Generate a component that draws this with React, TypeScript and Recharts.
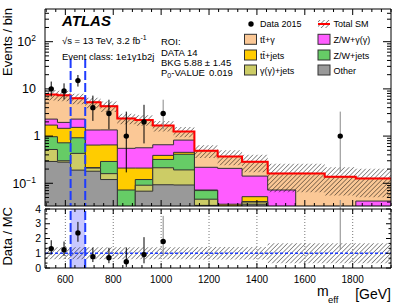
import React from 'react';
import {
  ComposedChart,
  Area,
  Line,
  Scatter,
  XAxis,
  YAxis,
  ReferenceLine,
  ReferenceArea,
  ErrorBar,
} from 'recharts';

const FONT = '"Liberation Sans", Arial, Helvetica, sans-serif';

// m_eff bin edges [GeV]
const binEdges = [515, 567, 622, 683, 747, 817, 892, 965, 1052, 1139, 1236, 1338, 1445, 1562, 1683, 1813, 1960];

// background components, events per bin (stack order bottom -> top)
const other = [0.29, 0.28, 0.19, 0.18, 0.12, 0.015, 0.068, 0.093, 0.092, 0.034, 0.02, 0.036, 0.01, 0.01, 0.01, 0.01];
const gammaJets = [0.23, 0.02, 0.24, 0.03, 0.04, 0.01, 0.023, 0.12, 0.1, 0.012, 0.01, 0.004, 0.005, 0.005, 0.005, 0.005];
const zwJets = [0.45, 0.42, 0.49, 0.005, 0.13, 0.047, 0.029, 0.107, 0.22, 0.024, 0.003, 0.001, 0.005, 0.005, 0.005, 0.005];
const ttJets = [0.74, 0.74, 0.61, 0.43, 0.36, 0.138, 0.09, 0.07, 0.04, 0.002, 0.003, 0.011, 0.005, 0.005, 0.005, 0.005];
const zwGamma = [0.58, 0.49, 0.76, 0.7, 0.7, 0.34, 0.355, 0.265, 0.37, 0.146, 0.171, 0.09, 0.047, 0.002, 0.002, 0.017];
const ttGamma = [5.31, 5.35, 4.01, 3.86, 2.96, 1.82, 1.635, 1.015, 0.43, 0.272, 0.163, 0.144, 0.09, 0.135, 0.11, 0.085];

// relative uncertainty on total SM per bin (main panel) and as drawn in the ratio panel
const bkgRelErr = [0.25, 0.25, 0.25, 0.25, 0.25, 0.25, 0.25, 0.25, 0.25, 0.3, 0.35, 0.4, 0.6, 0.6, 0.6, 0.6];
const ratioBandErr = [0.4, 0.4, 0.4, 0.4, 0.4, 0.4, 0.4, 0.4, 0.4, 0.42, 0.42, 0.42, 0.68, 0.68, 0.68, 0.68];

// data 2015
const dataCounts = [10, 9, 15, 4, 3, 1, 2, 3, 0, 0, 0, 0, 0, 0, 1, 0];
const dataLow = [6.9, 6.0, 11.2, 2.1, 1.4, 0.17, 0.7, 1.4, 0, 0, 0, 0, 0, 0, 0.17, 0];
const dataHigh = [14.3, 13.1, 19.7, 7.2, 5.9, 3.3, 4.6, 5.9, 0, 0, 0, 0, 0, 0, 3.3, 0];
const greyErrBins = [7, 14];

const roiEdges = [622, 683];
const xMajor = [600, 800, 1000, 1200, 1400, 1600, 1800];

const X_MIN = 515;
const X_MAX = 1960;
const Y_MIN = 0.033;
const Y_MAX = 493;

const COLORS = {
  ttGamma: '#fbc896',
  zwGamma: '#ff5cff',
  ttJets: '#ffcc00',
  zwJets: '#66cc66',
  gammaJets: '#cccc66',
  other: '#999999',
};

const layers = [
  { key: 'other', values: other },
  { key: 'gammaJets', values: gammaJets },
  { key: 'zwJets', values: zwJets },
  { key: 'ttJets', values: ttJets },
  { key: 'zwGamma', values: zwGamma },
  { key: 'ttGamma', values: ttGamma },
];

const nBins = binEdges.length - 1;
const totals = binEdges.slice(0, nBins).map((_, i) => layers.reduce((s, l) => s + l.values[i], 0));

const rows = binEdges.map((x, i) => {
  const b = Math.min(i, nBins - 1);
  const row: any = { x };
  let cum = 0;
  layers.forEach((l) => {
    cum += l.values[b];
    row[l.key] = cum;
  });
  row.total = cum;
  row.band = [cum * (1 - bkgRelErr[b]), cum * (1 + bkgRelErr[b])];
  row.rband = [1 - ratioBandErr[b], 1 + ratioBandErr[b]];
  return row;
});

const points = dataCounts
  .map((n, i) => ({
    x: (binEdges[i] + binEdges[i + 1]) / 2,
    y: n,
    err: [n - dataLow[i], dataHigh[i] - n],
    r: n / totals[i],
    rerr: [(n - dataLow[i]) / totals[i], (dataHigh[i] - n) / totals[i]],
    grey: greyErrBins.includes(i),
  }))
  .filter((p) => p.y > 0);
const blackPts = points.filter((p) => !p.grey);
const greyPts = points.filter((p) => p.grey);

const xTicks: number[] = [];
for (let v = 520; v <= 1960; v += 40) xTicks.push(v);
const logTicks: number[] = [];
[0.01, 0.1, 1, 10, 100].forEach((d) => {
  for (let m = 1; m <= 9; m++) {
    const v = +(m * d).toPrecision(3);
    if (v >= Y_MIN && v <= Y_MAX) logTicks.push(v);
  }
});
const ratioTicks: number[] = [];
for (let k = 0; k <= 12; k++) ratioTicks.push(+(k / 3).toFixed(4));

const isMajorLog = (v: number) => [0.1, 1, 10, 100].includes(v);

function xTick(dir: number, major: number, minor: number, labels: boolean) {
  return (props: any) => {
    const { x, y, payload } = props;
    const isMajor = payload.value % 200 === 0;
    const len = isMajor ? major : minor;
    return (
      <g>
        <line x1={x} x2={x} y1={y} y2={y - dir * len} stroke="#000" strokeWidth={1} />
        {labels && isMajor && (
          <text x={x} y={y + 15} textAnchor="middle" fontSize={10} fontFamily={FONT} fill="#000">
            {payload.value}
          </text>
        )}
      </g>
    );
  };
}

function logLabel(v: number) {
  if (v === 100)
    return (
      <>
        10<tspan dy={-5} fontSize={8.5}>2</tspan>
      </>
    );
  if (v === 0.1)
    return (
      <>
        10<tspan dy={-5} fontSize={8.5}>−1</tspan>
      </>
    );
  return <>{v}</>;
}

function logTick(dir: number, labels: boolean) {
  return (props: any) => {
    const { x, y, payload } = props;
    const major = isMajorLog(payload.value);
    const len = major ? 8 : 4;
    return (
      <g>
        <line x1={x} x2={x + dir * len} y1={y} y2={y} stroke="#000" strokeWidth={1} />
        {labels && major && (
          <text
            x={payload.value === 1 ? x - 4.5 : x - 9}
            y={y + 4.3}
            textAnchor="end"
            fontSize={12.5}
            fontFamily={FONT}
            fill="#000"
          >
            {logLabel(payload.value)}
          </text>
        )}
      </g>
    );
  };
}

function ratioTick(dir: number, labels: boolean) {
  return (props: any) => {
    const { x, y, payload } = props;
    const major = Math.abs(payload.value - Math.round(payload.value)) < 1e-6;
    const len = major ? 5 : 2.5;
    return (
      <g>
        <line x1={x} x2={x + dir * len} y1={y} y2={y} stroke="#000" strokeWidth={1} />
        {labels && major && (
          <text x={x - 4} y={y + 3.6} textAnchor="end" fontSize={10.5} fontFamily={FONT} fill="#000">
            {Math.round(payload.value)}
          </text>
        )}
      </g>
    );
  };
}

const dot = (p: any) => <circle cx={p.cx} cy={p.cy} r={2.7} fill="#000" />;

function MainPanel() {
  const ax = { xAxisId: 'b', yAxisId: 'l' };
  return (
    <ComposedChart width={411} height={207} data={rows} margin={{ top: 8, right: 0, bottom: 0, left: 0 }}>
      <XAxis
        xAxisId="b"
        dataKey="x"
        type="number"
        domain={[X_MIN, X_MAX]}
        allowDataOverflow
        ticks={xTicks}
        interval={0}
        tick={xTick(1, 6, 3, false)}
        tickLine={false}
        tickSize={0}
        tickMargin={0}
        height={1}
        axisLine={{ stroke: '#000' }}
      />
      <XAxis
        xAxisId="t"
        orientation="top"
        dataKey="x"
        type="number"
        domain={[X_MIN, X_MAX]}
        allowDataOverflow
        ticks={xTicks}
        interval={0}
        tick={xTick(-1, 6, 3, false)}
        tickLine={false}
        tickSize={0}
        tickMargin={0}
        height={1}
        axisLine={{ stroke: '#000' }}
      />
      <YAxis
        yAxisId="l"
        scale="log"
        type="number"
        domain={[Y_MIN, Y_MAX]}
        allowDataOverflow
        ticks={logTicks}
        interval={0}
        tick={logTick(1, true)}
        tickLine={false}
        tickSize={0}
        tickMargin={0}
        width={45}
        axisLine={{ stroke: '#000' }}
      />
      <YAxis
        yAxisId="r"
        orientation="right"
        scale="log"
        type="number"
        domain={[Y_MIN, Y_MAX]}
        allowDataOverflow
        ticks={logTicks}
        interval={0}
        tick={logTick(-1, false)}
        tickLine={false}
        tickSize={0}
        tickMargin={0}
        width={20}
        axisLine={{ stroke: '#000' }}
      />
      {[...layers].reverse().map((l) => (
        <Area
          key={l.key}
          {...ax}
          dataKey={l.key}
          type="stepAfter"
          baseValue={Y_MIN}
          fill={(COLORS as any)[l.key]}
          fillOpacity={1}
          stroke="#333"
          strokeWidth={1}
          isAnimationActive={false}
        />
      ))}
      <Area {...ax} dataKey="band" type="stepAfter" fill="url(#hatch)" fillOpacity={1} stroke="none" isAnimationActive={false} />
      <Line {...ax} dataKey="total" type="stepAfter" stroke="#ff0000" strokeWidth={2} dot={false} isAnimationActive={false} />
      {roiEdges.map((e) => (
        <ReferenceLine
          key={e}
          {...ax}
          segment={[
            { x: e, y: 43 },
            { x: e, y: Y_MIN },
          ]}
          stroke="#1f3cff"
          strokeWidth={2}
          strokeDasharray="9 3"
        />
      ))}
      <Scatter {...ax} data={blackPts} dataKey="y" shape={dot} isAnimationActive={false}>
        <ErrorBar dataKey="err" direction="y" width={0} stroke="#000" strokeWidth={1} />
      </Scatter>
      <Scatter {...ax} data={greyPts} dataKey="y" shape={dot} isAnimationActive={false}>
        <ErrorBar dataKey="err" direction="y" width={0} stroke="#888" strokeWidth={1} />
      </Scatter>
    </ComposedChart>
  );
}

function RatioPanel() {
  const ax = { xAxisId: 'b', yAxisId: 'l' };
  return (
    <ComposedChart width={411} height={108} data={rows} margin={{ top: 8, right: 0, bottom: 0, left: 0 }}>
      <XAxis
        xAxisId="b"
        dataKey="x"
        type="number"
        domain={[X_MIN, X_MAX]}
        allowDataOverflow
        ticks={xTicks}
        interval={0}
        tick={xTick(1, 5, 3, true)}
        tickLine={false}
        tickSize={0}
        tickMargin={0}
        height={40}
        axisLine={{ stroke: '#000' }}
      />
      <XAxis
        xAxisId="t"
        orientation="top"
        dataKey="x"
        type="number"
        domain={[X_MIN, X_MAX]}
        allowDataOverflow
        ticks={xTicks}
        interval={0}
        tick={xTick(-1, 5, 3, false)}
        tickLine={false}
        tickSize={0}
        tickMargin={0}
        height={1}
        axisLine={{ stroke: '#000' }}
      />
      <YAxis
        yAxisId="l"
        type="number"
        domain={[0, 4]}
        allowDataOverflow
        ticks={ratioTicks}
        interval={0}
        tick={ratioTick(1, true)}
        tickLine={false}
        tickSize={0}
        tickMargin={0}
        width={45}
        axisLine={{ stroke: '#000' }}
      />
      <YAxis
        yAxisId="r"
        orientation="right"
        type="number"
        domain={[0, 4]}
        allowDataOverflow
        ticks={ratioTicks}
        interval={0}
        tick={ratioTick(-1, false)}
        tickLine={false}
        tickSize={0}
        tickMargin={0}
        width={20}
        axisLine={{ stroke: '#000' }}
      />
      <ReferenceArea {...ax} x1={roiEdges[0]} x2={roiEdges[1]} fill="#c8c8ff" fillOpacity={1} stroke="none" />
      {xMajor.map((v) => (
        <ReferenceLine key={v} {...ax} x={v} stroke="#777" strokeWidth={1} strokeDasharray="1 2" />
      ))}
      <Area {...ax} dataKey="rband" type="stepAfter" fill="url(#hatch)" fillOpacity={1} stroke="none" isAnimationActive={false} />
      <ReferenceLine {...ax} y={1} stroke="#1f3cff" strokeWidth={1.5} strokeDasharray="3 2" />
      {roiEdges.map((e) => (
        <ReferenceLine key={e} {...ax} x={e} stroke="#1f3cff" strokeWidth={2} strokeDasharray="9 3" />
      ))}
      <Scatter {...ax} data={blackPts} dataKey="r" shape={dot} isAnimationActive={false}>
        <ErrorBar dataKey="rerr" direction="y" width={0} stroke="#000" strokeWidth={1} />
      </Scatter>
      <Scatter {...ax} data={greyPts} dataKey="r" shape={dot} isAnimationActive={false}>
        <ErrorBar dataKey="rerr" direction="y" width={0} stroke="#888" strokeWidth={1} />
      </Scatter>
    </ComposedChart>
  );
}

const legendItems = [
  { label: 'tt\u0304+\u03b3', color: COLORS.ttGamma, col: 0, row: 1 },
  { label: 'tt\u0304+jets', color: COLORS.ttJets, col: 0, row: 2 },
  { label: '\u03b3(\u03b3)+jets', color: COLORS.gammaJets, col: 0, row: 3 },
  { label: 'Z/W+\u03b3(\u03b3)', color: COLORS.zwGamma, col: 1, row: 1 },
  { label: 'Z/W+jets', color: COLORS.zwJets, col: 1, row: 2 },
  { label: 'Other', color: COLORS.other, col: 1, row: 3 },
];

function Overlay() {
  const colX = [244.5, 318];
  const rowY = [24, 39.3, 55, 70];
  const t = { fontFamily: FONT, fill: '#000' } as const;
  return (
    <svg width={411} height={308} style={{ position: 'absolute', left: 0, top: 0, pointerEvents: 'none' }}>
      <defs>
        <pattern id="hatch" width="3.2" height="3.2" patternUnits="userSpaceOnUse" patternTransform="rotate(45)">
          <line x1="0" y1="0" x2="0" y2="3.2" stroke="#000" strokeWidth="0.8" />
        </pattern>
      </defs>
      <text {...t} transform="translate(12,8) rotate(-90)" textAnchor="end" fontSize={13}>
        Events / bin
      </text>
      <text {...t} transform="translate(12,207) rotate(-90)" textAnchor="end" fontSize={13}>
        Data / MC
      </text>
      <text {...t} x={317} y={296} fontSize={14}>
        m
      </text>
      <text {...t} x={328} y={303} fontSize={9.5}>
        eff
      </text>
      <text {...t} x={391} y={299} fontSize={14} textAnchor="end">
        [GeV]
      </text>

      <text {...t} x={62} y={26} fontSize={15} fontWeight="bold" fontStyle="italic">
        ATLAS
      </text>
      <text {...t} x={62} y={43.5} fontSize={9.5}>
        {'\u221as = 13 TeV, 3.2 fb'}
        <tspan dy={-4} fontSize={7}>
          -1
        </tspan>
      </text>
      <text {...t} x={62} y={60} fontSize={9.5}>
        Event class: 1e1γ1b2j
      </text>
      <text {...t} x={161} y={45} fontSize={9.5}>
        ROI:
      </text>
      <text {...t} x={161} y={56} fontSize={9.5}>
        DATA 14
      </text>
      <text {...t} x={161} y={66} fontSize={9.5}>
        BKG 5.88 ± 1.45
      </text>
      <text {...t} x={161} y={75.5} fontSize={9.5}>
        P<tspan dy={2} fontSize={7}>0</tspan>
        <tspan dy={-2}>-VALUE</tspan>
      </text>
      <text {...t} x={209} y={75.5} fontSize={9.5}>
        0.019
      </text>

      <circle cx={251} cy={rowY[0]} r={2.7} fill="#000" />
      <text {...t} x={260} y={rowY[0] + 3.3} fontSize={9}>
        Data 2015
      </text>
      <rect x={colX[1]} y={rowY[0] - 4} width={12} height={8} fill="url(#hatch)" />
      <line x1={colX[1]} x2={colX[1] + 12} y1={rowY[0]} y2={rowY[0]} stroke="#ff0000" strokeWidth={2} />
      <text {...t} x={333.5} y={rowY[0] + 3.3} fontSize={9}>
        Total SM
      </text>
      {legendItems.map((it) => (
        <g key={it.label}>
          <rect
            x={colX[it.col]}
            y={rowY[it.row] - 5}
            width={12}
            height={10}
            fill={it.color}
            stroke="#333"
            strokeWidth={1}
          />
          <text {...t} x={colX[it.col] + 15.5} y={rowY[it.row] + 3.5} fontSize={9}>
            {it.label}
          </text>
        </g>
      ))}
    </svg>
  );
}

export default function App() {
  return (
    <div style={{ position: 'absolute', left: 0, top: 0, width: 411, height: 308, background: '#fff' }}>
      <div style={{ position: 'absolute', left: 0, top: 0 }}>
        <MainPanel />
      </div>
      <div style={{ position: 'absolute', left: 0, top: 200 }}>
        <RatioPanel />
      </div>
      <Overlay />
    </div>
  );
}
